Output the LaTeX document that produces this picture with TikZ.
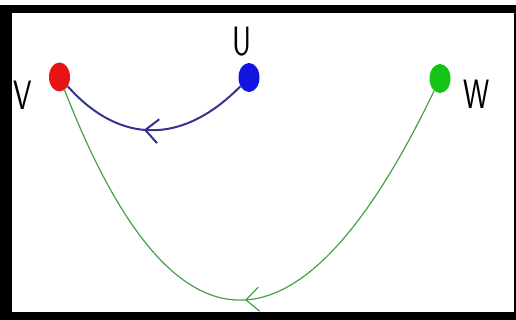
\documentclass[tikz,border=0pt]{standalone}
\usepackage{tikz}
\usetikzlibrary{arrows.meta,shapes.geometric,decorations.markings}
\definecolor{dotred}{HTML}{E61414}
\definecolor{dotblue}{HTML}{1414E0}
\definecolor{dotgreen}{HTML}{14C414}
\definecolor{edgeblue}{HTML}{34348C}
\definecolor{edgegreen}{HTML}{47A047}

\begin{document}
\begin{tikzpicture}[
  x=1pt,y=-1pt,
  dot/.style={ellipse,minimum width=21pt,minimum height=29pt,inner sep=0pt},
  dotname/.style={font=\sffamily\fontsize{41}{41}\selectfont,xscale=0.72,inner sep=0pt},
  midarrow/.style={postaction={decorate},decoration={markings,mark=at position #1 with {\arrow{Straight Barb[length=13pt,width=24pt]}}}}
]
\useasboundingbox (0,0) rectangle (516,320);
% frame
\fill[black] (0,5) rectangle (516,320);
\fill[white] (12,13) rectangle (514,312);
\node[dot,fill=dotred] (v) at (59.5,77) {};
\node[dot,fill=dotblue] (u) at (249,77.5) {};
\node[dot,fill=dotgreen] (w) at (440,78.5) {};
\node[dotname] (vname) at (23,95) {V};
\node[dotname] (uname) at (242,42) {U};
\node[dotname] (wname) at (477,94) {W};
\draw[edgeblue,line width=2pt,midarrow=0.55] (u) .. controls (182.8,145) and (119.7,144.8) .. (v);
\draw[edgegreen,line width=1.2pt,midarrow=0.5] (w) .. controls (300.2,370.3) and (173.3,369.8) .. (v);
\end{tikzpicture}
\end{document}
